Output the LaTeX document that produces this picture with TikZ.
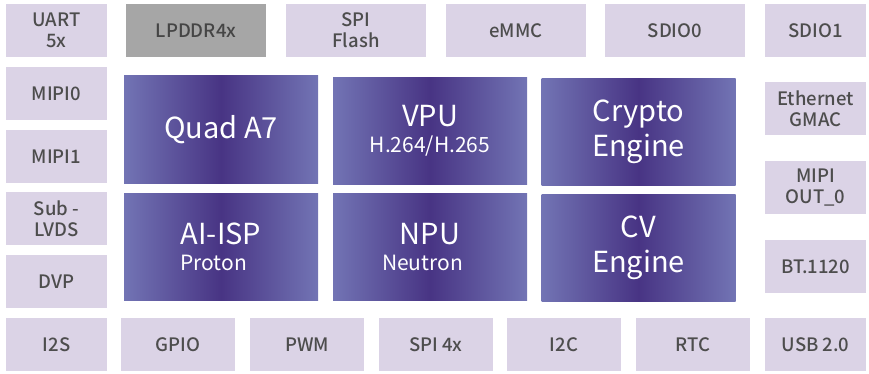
\documentclass[tikz,border=0pt]{standalone}
\usepackage{fontspec}
\setmainfont{Noto Sans CJK SC}
\newfontfamily\labelfont{Noto Sans CJK SC Medium}
\definecolor{ifcol}{RGB}{219,211,230}
\definecolor{memcol}{RGB}{166,166,166}
\definecolor{txtcol}{RGB}{77,77,77}
\definecolor{coreedge}{RGB}{114,116,180}
\definecolor{coredark}{RGB}{72,52,132}
\def\ifnode#1#2#3#4#5 {
      \node[ifbox, minimum width=#4] (#1) at (#2,#3) {#5};
  }
\def\corenode#1#2#3#4 {
      \node[corebox] (#1) at (#2,#3) {#4};
  }

\begin{document}
\begin{tikzpicture}[x=1pt, y=-1pt,
  ifbox/.style = {fill=ifcol, text=txtcol, minimum height=53pt
    , inner sep=0pt, align=center
    , font=\labelfont\fontsize{18.5}{21}\selectfont},
  memory/.style = {fill=memcol, text=txtcol!90!black},
  corebox/.style = {left color=coreedge, right color=coreedge
    , middle color=coredark, text=white
    , minimum width=194pt, minimum height=107pt
    , inner sep=0pt, align=center
    , font=\fontsize{29}{35}\selectfont}]

 \useasboundingbox (0,0) rectangle (869,374);

 % top row
 \ifnode{uart}{56.5}{30.5}{101}{UART\\5x}
 \node[ifbox, memory, minimum width=140] (lpddr) at (196,30.5) {LPDDR4x};
 \ifnode{spiflash}{356}{30.5}{140}{SPI\\Flash}
 \ifnode{emmc}{516}{30.5}{140}{eMMC}
 \ifnode{sdio0}{675}{30.5}{140}{SDIO0}
 \ifnode{sdio1}{815.5}{30.5}{101}{SDIO1}

 % left column
 \ifnode{mipi0}{56.5}{93.5}{101}{MIPI0}
 \ifnode{mipi1}{56.5}{156.5}{101}{MIPI1}
 \ifnode{sublvds}{56.5}{218.5}{101}{Sub -\\LVDS}
 \ifnode{dvp}{56.5}{281.5}{101}{DVP}

 % bottom row
 \ifnode{i2s}{56.5}{344.5}{101}{I2S}
 \ifnode{gpio}{178}{344.5}{114}{GPIO}
 \ifnode{pwm}{307}{344.5}{114}{PWM}
 \ifnode{spi4x}{436}{344.5}{114}{SPI 4x}
 \ifnode{i2c}{564}{344.5}{114}{I2C}
 \ifnode{rtc}{693}{344.5}{114}{RTC}
 \ifnode{usb}{815.5}{344.5}{101}{USB 2.0}

 % right column
 \ifnode{gmac}{815.5}{108.5}{101}{Ethernet\\GMAC}
 \ifnode{mipiout}{815.5}{187.5}{101}{MIPI\\OUT\_0}
 \ifnode{bt1120}{815.5}{266.5}{101}{BT.1120}

 % cores
 \corenode{quad}{221}{129.5}{Quad A7}
 \corenode{vpu}{430}{131}{VPU\\[-9pt]{\fontsize{21}{24}\selectfont H.264/H.265}}
 \corenode{crypto}{638.5}{132}{Crypto\\Engine}
 \corenode{aiisp}{221}{247}{AI-ISP\\[-9pt]{\fontsize{21}{24}\selectfont Proton\hspace*{15pt}}}
 \corenode{npu}{430}{247}{NPU\\[-9pt]{\fontsize{21}{24}\selectfont Neutron\hspace*{15pt}}}
 \corenode{cv}{638.5}{248}{CV\\Engine}
\end{tikzpicture}
\end{document}
